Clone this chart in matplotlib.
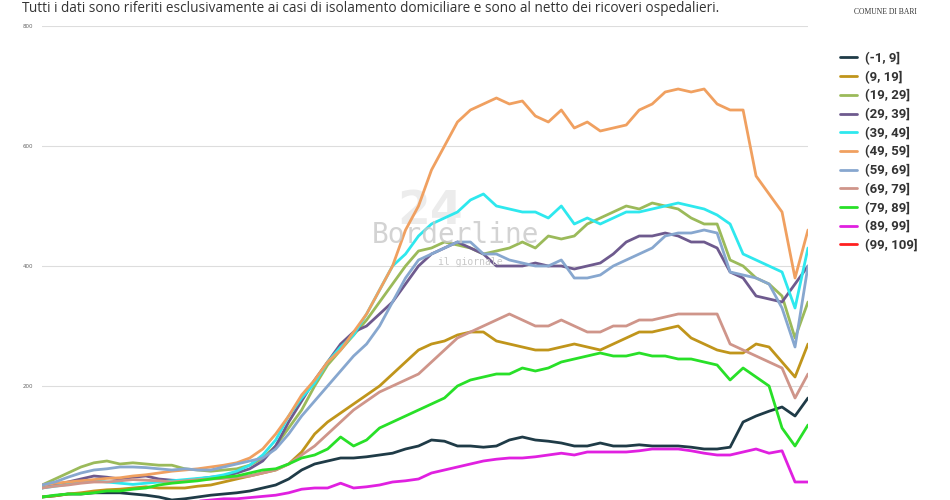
import matplotlib
matplotlib.use("Agg")
import matplotlib.pyplot as plt
import numpy as np

labels = ["(-1, 9]", "(9, 19]", "(19, 29]", "(29, 39]", "(39, 49]", "(49, 59]",
          "(59, 69]", "(69, 79]", "(79, 89]", "(89, 99]", "(99, 109]"]
colors = ["#1f3b47", "#c0951b", "#9bba5a", "#6e5a8e", "#2ee8ee", "#f0a060",
          "#87a7cf", "#cf958a", "#28e028", "#e020e0", "#ff2020"]

s_m1_9 = [15,17,20,20,22,22,22,20,18,15,10,12,15,18,20,22,25,30,35,45,60,70,75,80,80,82,85,88,95,100,110,108,100,100,98,100,110,115,110,108,105,100,100,105,100,100,102,100,100,100,98,95,95,98,140,150,158,165,150,180]
s_9_19 = [15,17,20,22,25,27,28,30,32,30,30,30,33,35,40,45,50,55,60,70,90,120,140,155,170,185,200,220,240,260,270,275,285,290,290,275,270,265,260,260,265,270,265,260,270,280,290,290,295,300,280,270,260,255,255,270,265,240,215,270]
s_19_29 = [35,45,55,65,72,75,70,72,70,68,68,62,60,58,60,62,68,80,100,130,160,200,235,260,285,310,340,370,400,425,430,440,435,430,420,425,430,440,430,450,445,450,470,480,490,500,495,505,500,495,480,470,470,410,400,380,370,350,280,340]
s_29_39 = [30,35,40,45,50,48,45,48,50,45,43,42,45,48,50,55,62,75,100,140,175,210,240,270,290,300,320,340,370,400,420,430,440,430,420,400,400,400,405,400,400,395,400,405,420,440,450,450,455,450,440,440,430,390,380,350,345,340,370,400]
s_39_49 = [30,33,36,40,42,40,38,36,38,40,42,44,46,48,52,58,68,85,110,150,180,205,240,265,285,320,360,400,420,450,470,480,490,510,520,500,495,490,490,480,500,470,480,470,480,490,490,495,500,505,500,495,485,470,420,410,400,390,330,430]
s_49_59 = [35,38,40,42,44,46,47,50,52,55,58,60,62,65,68,72,80,95,120,150,185,210,240,260,290,320,360,400,460,500,560,600,640,660,670,680,670,675,650,640,660,630,640,625,630,635,660,670,690,695,690,695,670,660,660,550,520,490,380,460]
s_59_69 = [35,40,48,55,60,62,65,65,64,62,60,62,60,60,65,70,75,80,95,120,150,175,200,225,250,270,300,340,380,410,420,430,440,440,420,420,410,405,400,400,410,380,380,385,400,410,420,430,450,455,455,460,455,390,385,380,370,330,265,400]
s_69_79 = [30,33,35,38,40,40,42,44,43,42,40,42,44,45,46,48,50,55,60,70,85,100,120,140,160,175,190,200,210,220,240,260,280,290,300,310,320,310,300,300,310,300,290,290,300,300,310,310,315,320,320,320,320,270,260,250,240,230,180,220]
s_79_89 = [15,18,20,20,22,25,25,28,30,35,38,40,42,45,48,50,55,60,62,70,80,85,95,115,100,110,130,140,150,160,170,180,200,210,215,220,220,230,225,230,240,245,250,255,250,250,255,250,250,245,245,240,235,210,230,215,200,130,100,135]
s_89_99 = [3,3,3,4,4,5,5,5,5,5,6,6,8,10,12,12,14,16,18,22,28,30,30,38,30,32,35,40,42,45,55,60,65,70,75,78,80,80,82,85,88,85,90,90,90,90,92,95,95,95,92,88,85,85,90,95,88,92,40,40]
s_99_109 = [1]*60

series = [s_m1_9, s_9_19, s_19_29, s_29_39, s_39_49, s_49_59,
          s_59_69, s_69_79, s_79_89, s_89_99, s_99_109]
yticks = [200, 400, 600, 800]
title = "Tutti i dati sono riferiti esclusivamente ai casi di isolamento domiciliare e sono al netto dei ricoveri ospedalieri."

fig = plt.figure(figsize=(9.5, 5), dpi=100)
ax = fig.add_axes([42/950, 0, (808-42)/950, 474/500])
x = np.arange(len(s_m1_9))
handles = []
for s, c, l in zip(series, colors, labels):
    h, = ax.plot(x, s, color=c, lw=2.0, label=l, solid_capstyle="round")
    handles.append(h)
ax.set_xlim(0, len(x) - 1)
ax.set_ylim(10, 800)
for v in yticks:
    ax.axhline(v, color="#dddddd", lw=0.8, zorder=0)
    ax.text(-0.012, v, str(v), transform=ax.get_yaxis_transform(), fontsize=4,
            color="#666666", ha="right", va="center")
ax.set_xticks([]); ax.set_yticks([])
for sp in ax.spines.values():
    sp.set_visible(False)
ax.patch.set_alpha(0)

# watermark
fig.text(430/950, 1 - 212/500, "24", fontsize=34, color="#ececec", ha="center",
         va="center", fontweight="bold", zorder=-1)
fig.text(455/950, 1 - 235/500, "Borderline", fontsize=20, family="DejaVu Sans Mono",
         color="#c8c8c8", ha="center", va="center", alpha=0.8)
fig.text(470/950, 1 - 262/500, "il giornale", fontsize=7, family="DejaVu Sans Mono",
         color="#c8c8c8", ha="center", va="center")

fig.text(22/950, 1 - 8/500, title, fontsize=9.8, family="Open Sans", color="#333333",
         ha="left", va="center")
fig.text(885/950, 1 - 12/500, "COMUNE DI BARI", fontsize=5.5, family="Liberation Serif",
         color="#333333", ha="center", va="center")

leg = fig.legend(handles=handles, labels=labels, loc="upper left",
                 bbox_to_anchor=(828/950, 1 - 40/500), frameon=False,
                 prop={"family": "Roboto", "weight": "bold", "size": 9.5},
                 handlelength=1.3, handletextpad=0.6, labelspacing=0.42)
for t in leg.get_texts():
    t.set_color("#333333")
fig.savefig("out.png", dpi=100)
